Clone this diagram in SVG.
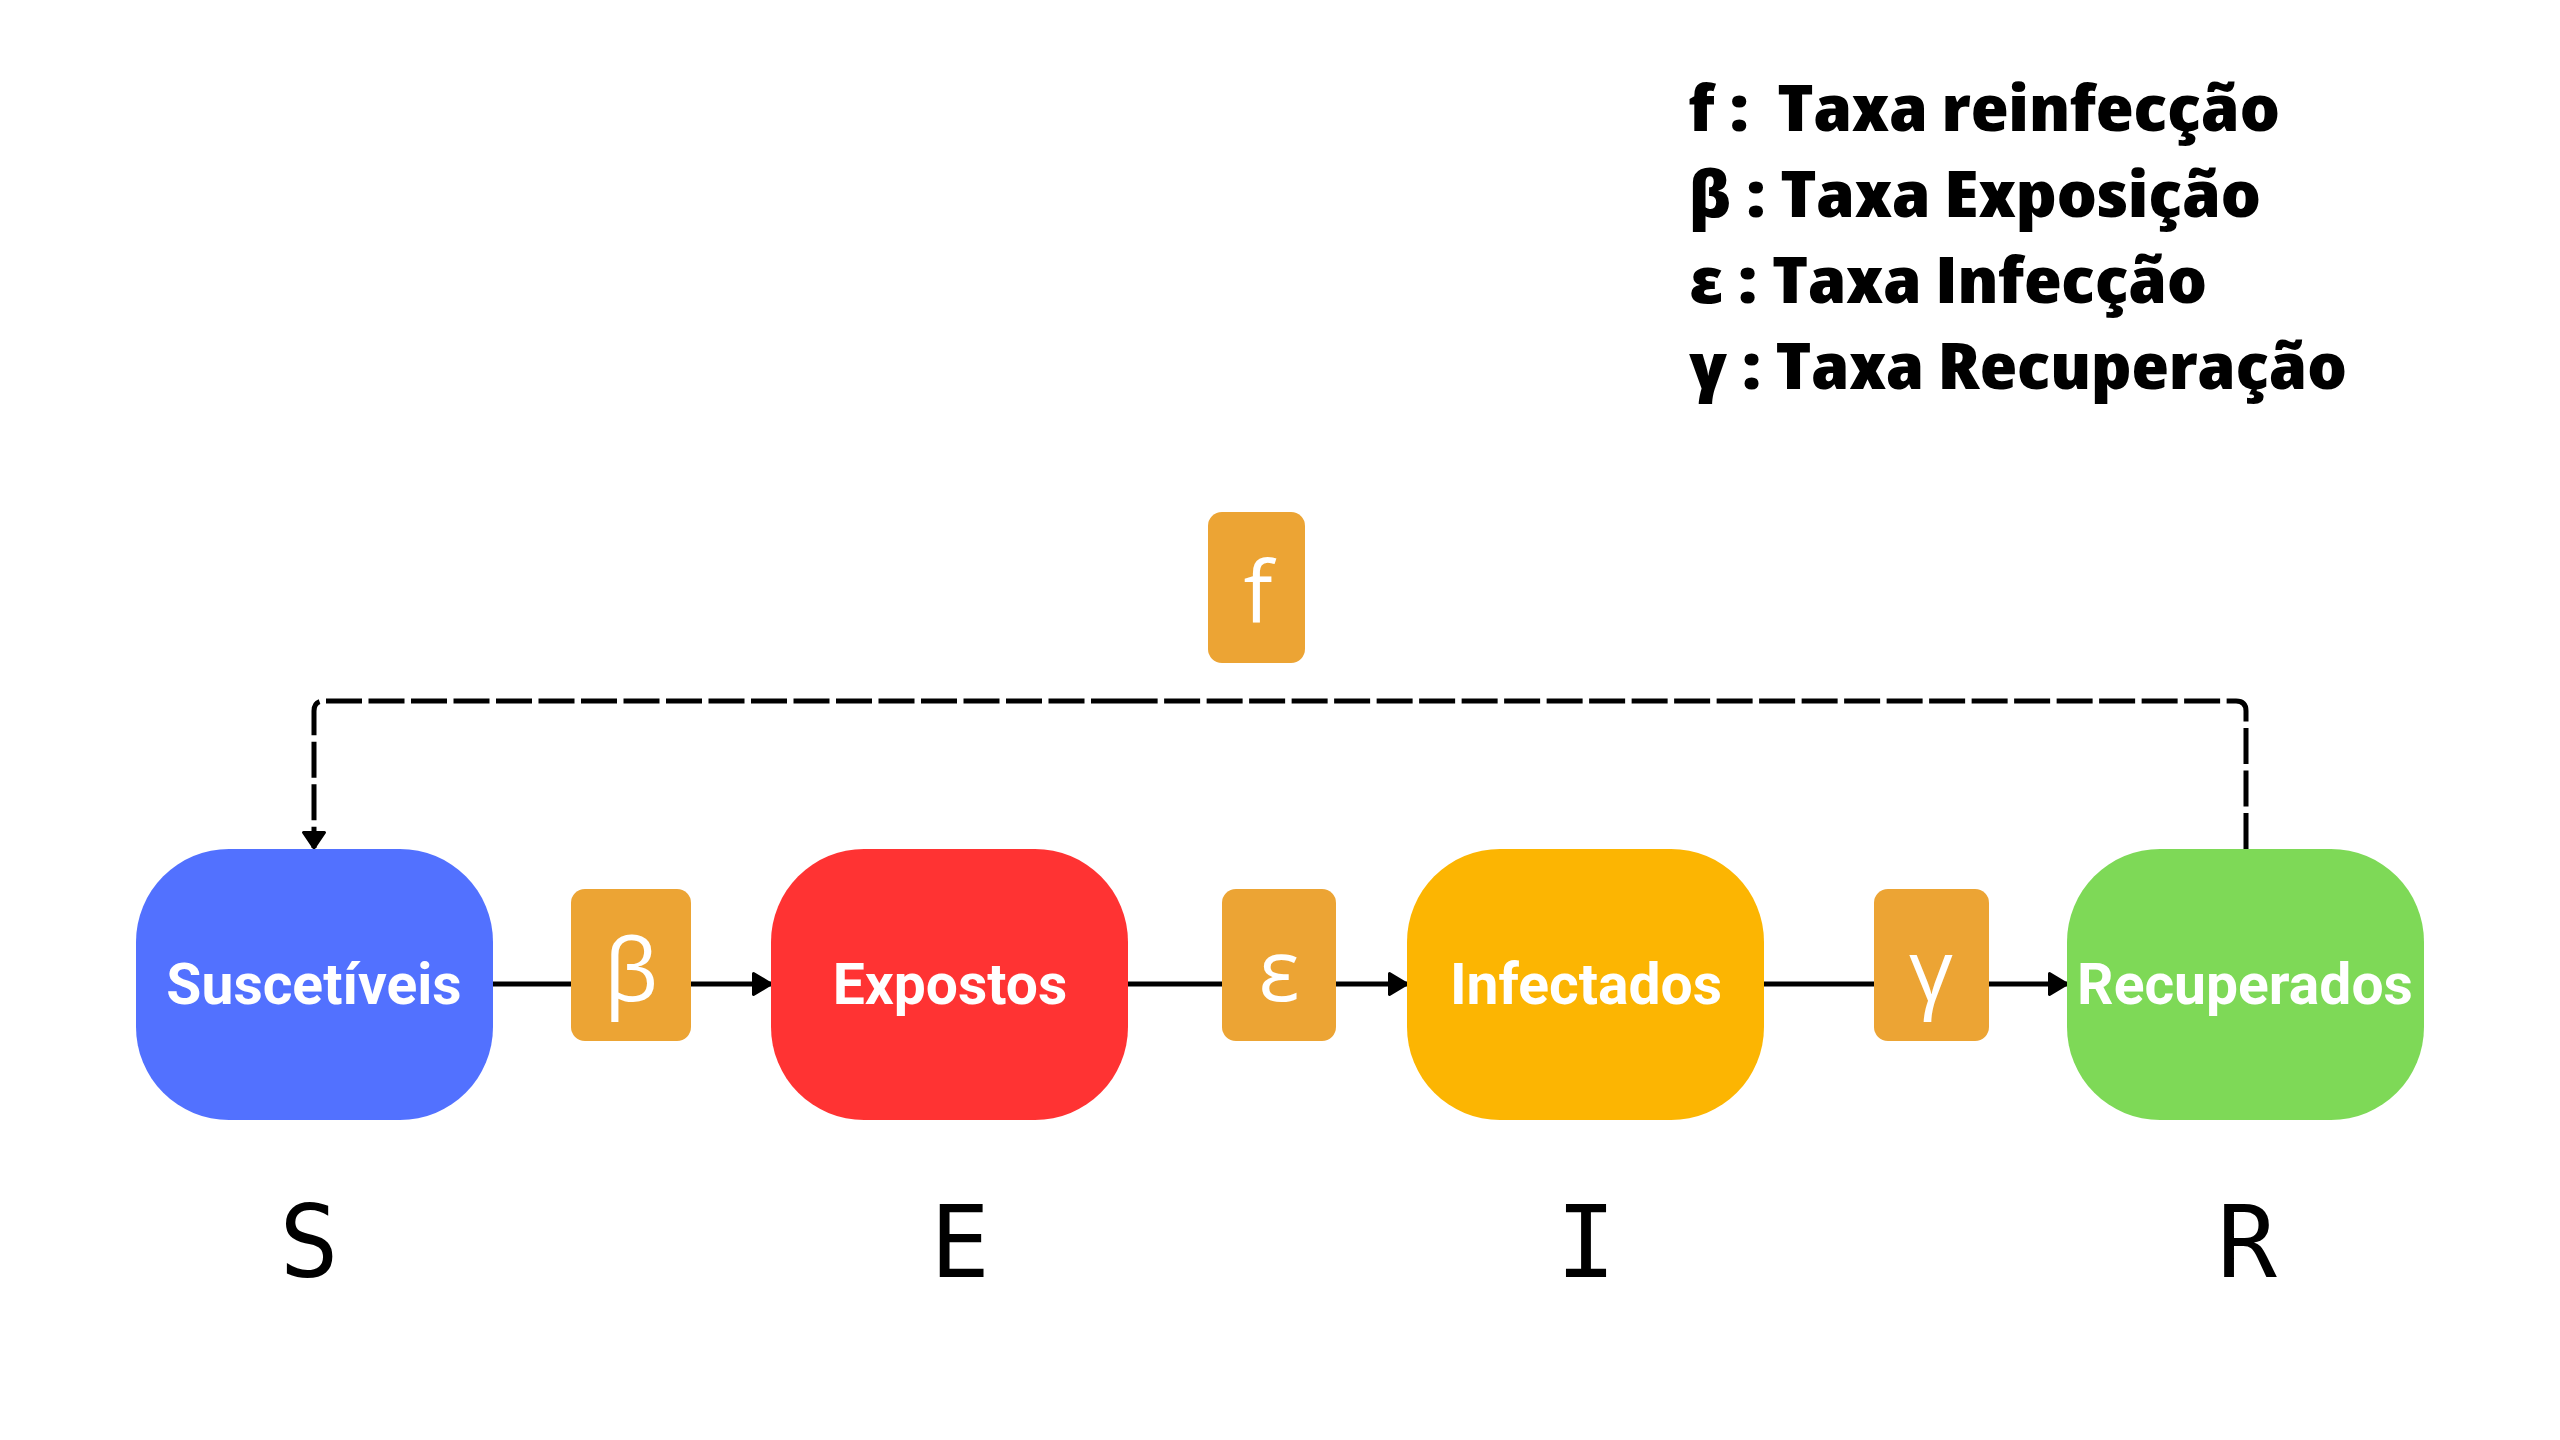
<svg xmlns="http://www.w3.org/2000/svg" width="2560" height="1440" viewBox="0 0 2560 1440">
  <style>
    .legend { font-family: "Open Sans", "Liberation Sans", sans-serif; font-weight: 800; font-stretch: 75%; font-size: 63px; fill: #000000; }
    .node-label { font-family: Roboto, "Liberation Sans", sans-serif; font-weight: 700; font-size: 57px; fill: #ffffff; text-anchor: middle; }
    .rate { fill: #ECA434; }
    .rate-label { font-family: "Open Sans", "Noto Sans", sans-serif; font-weight: 400; font-size: 86px; fill: #ffffff; text-anchor: middle; }
    .state-letter { font-family: "DejaVu Sans Mono", monospace; font-size: 99px; fill: #000000; text-anchor: middle; }
    .flow { stroke: #000000; stroke-width: 5; fill: none; }
    .dashed { stroke: #000000; stroke-width: 5; fill: none; stroke-dasharray: 36 6.5; }
  </style>
  <defs>
    <marker id="arrow" markerUnits="userSpaceOnUse" markerWidth="24" markerHeight="28" refX="19" refY="12" orient="auto" viewBox="0 0 24 24">
      <path d="M1.5,1.5 L19,12 L1.5,22.5 Z" fill="#000000" stroke="#000000" stroke-width="3" stroke-linejoin="round"/>
    </marker>
    <marker id="arrow-dash" markerUnits="userSpaceOnUse" markerWidth="24" markerHeight="28" refX="17" refY="12" orient="auto" viewBox="0 0 24 24">
      <path d="M1.5,1.5 L17,12 L1.5,22.5 Z" fill="#000000" stroke="#000000" stroke-width="3" stroke-linejoin="round"/>
    </marker>
  </defs>
  <rect width="2560" height="1440" fill="#ffffff"/>

  <g id="legend">
    <text class="legend" x="1689" y="131" textLength="591" lengthAdjust="spacingAndGlyphs">f :&#160; Taxa reinfecção</text>
    <text class="legend" x="1689" y="217" textLength="572" lengthAdjust="spacingAndGlyphs">β : Taxa Exposição</text>
    <text class="legend" x="1689" y="303" textLength="518" lengthAdjust="spacingAndGlyphs">ε : Taxa Infecção</text>
    <text class="legend" x="1689" y="389" textLength="658" lengthAdjust="spacingAndGlyphs">γ : Taxa Recuperação</text>
  </g>

  <g id="connectors">
    <line class="flow" x1="492" y1="984" x2="771" y2="984" marker-end="url(#arrow)"/>
    <line class="flow" x1="1128" y1="984" x2="1407" y2="984" marker-end="url(#arrow)"/>
    <line class="flow" x1="1764" y1="984" x2="2067" y2="984" marker-end="url(#arrow)"/>
    <path class="dashed" d="M2246,849 V711 Q2246,701 2236,701 H1127"/>
    <path class="dashed" d="M1127,701 H324 Q314,701 314,711 V848" marker-end="url(#arrow-dash)"/>
  </g>

  <g id="rate-beta">
    <rect class="rate" x="571" y="889" width="120" height="152" rx="14"/>
    <text class="rate-label" x="631" y="1001">β</text>
  </g>
  <g id="rate-epsilon">
    <rect class="rate" x="1222" y="889" width="114" height="152" rx="14"/>
    <text class="rate-label" x="1279" y="1001">ε</text>
  </g>
  <g id="rate-gamma">
    <rect class="rate" x="1874" y="889" width="115" height="152" rx="14"/>
    <text class="rate-label" x="1931" y="1001">γ</text>
  </g>
  <g id="rate-f">
    <rect class="rate" x="1208" y="512" width="97" height="151" rx="14"/>
    <text class="rate-label" x="1258" y="623">f</text>
  </g>

  <g id="node-S">
    <rect x="136" y="849" width="357" height="271" rx="93" fill="#5271FF"/>
    <text class="node-label" x="314" y="1004">Suscetíveis</text>
  </g>
  <g id="node-E">
    <rect x="771" y="849" width="357" height="271" rx="93" fill="#FF3333"/>
    <text class="node-label" x="950" y="1004">Expostos</text>
  </g>
  <g id="node-I">
    <rect x="1407" y="849" width="357" height="271" rx="93" fill="#FCB502"/>
    <text class="node-label" x="1586" y="1004">Infectados</text>
  </g>
  <g id="node-R">
    <rect x="2067" y="849" width="357" height="271" rx="93" fill="#7ED957"/>
    <text class="node-label" x="2245" y="1004">Recuperados</text>
  </g>

  <g id="state-letters">
    <text class="state-letter" x="309" y="1277">S</text>
    <text class="state-letter" x="960" y="1277">E</text>
    <text class="state-letter" x="1586" y="1277">I</text>
    <text class="state-letter" x="2247" y="1277">R</text>
  </g>
</svg>
